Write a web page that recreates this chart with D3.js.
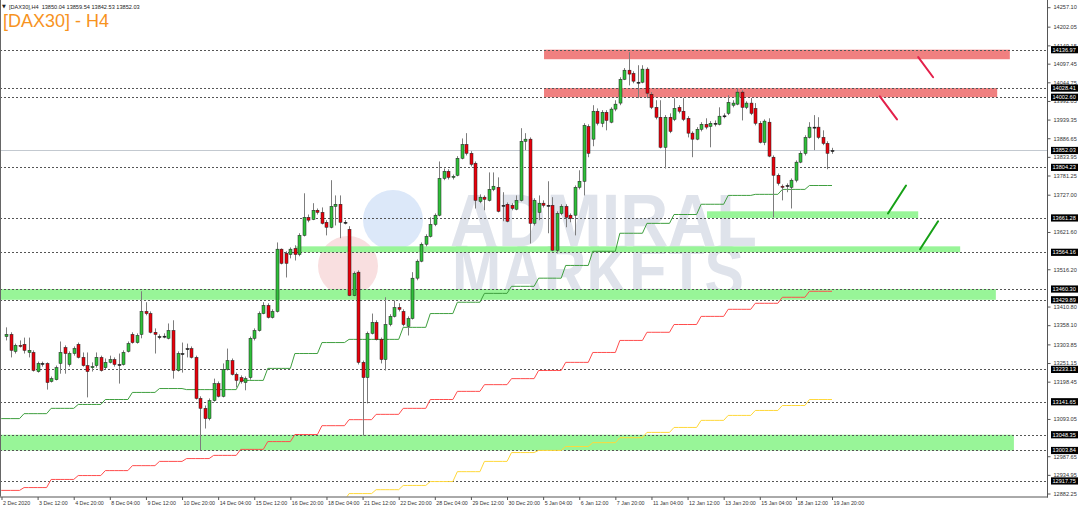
<!DOCTYPE html>
<html><head><meta charset="utf-8">
<script src="https://cdn.jsdelivr.net/npm/d3@7"></script>
<style>
html,body{margin:0;padding:0;background:#fff;}
svg{display:block;font-family:"Liberation Sans",Arial,sans-serif;}
</style></head><body>
<svg id="c" width="1080" height="508"></svg>
<script>
// ---------- DATA ----------
const opens = [13326,13332,13284,13301,13304,13281,13281,13227,13250,13250, 13199,13204,13250,13295,13247,13278,13304,13267,13244,13238, 13244,13267,13238,13253,13261,13247,13247,13284,13332,13309, 13332,13397,13391,13338,13326,13326,13321,13343,13230,13278, 13292,13292,13267,13151,13123,13094,13145,13193,13157,13233, 13258,13219,13210,13196,13210,13321,13343,13391,13414,13380, 13397,13573,13561,13558,13575,13558,13612,13663,13657,13683, 13677,13649,13635,13694,13700,13649,13629,13442,13508,13253, 13210,13335,13366,13318,13261,13360,13383,13408,13397,13355, 13377,13491,13539,13587,13609,13643,13669,13773,13793,13776, 13782,13830,13869,13844,13816,13708,13720,13711,13742,13748, 13697,13700,13697,13686,13711,13878,13884,13646,13677,13703, 13697,13697,13570,13674,13694,13669,13669,13748,13765,13920, 13884,13963,13929,13960,13932,13969,13986,14053,14079,14070, 14045,14045,14082,14011,13974,13946,13861,13946,13940,13974, 13963,13943,13901,13884,13912,13926,13920,13929,13926,13949, 13957,13980,13983,14017,13974,13986,13971,13929,13875,13932, 13833,13782,13751,13753,13748,13768,13819,13844,13889,13918, 13918,13889,13872,13850.04];
const highs = [13352,13338,13306,13315,13323,13323,13287,13255,13255,13253, 13213,13244,13312,13301,13284,13298,13309,13281,13281,13253, 13281,13272,13264,13272,13267,13278,13287,13312,13338,13335, 13454,13423,13397,13349,13332,13335,13363,13372,13284,13309, 13306,13298,13272,13157,13131,13151,13207,13199,13250,13292, 13264,13224,13216,13213,13326,13349,13397,13423,13420,13403, 13592,13575,13567,13578,13584,13618,13731,13671,13703,13688, 13691,13655,13768,13725,13725,13655,13638,13510,13513,13258, 13340,13391,13372,13323,13437,13389,13428,13420,13403,13383, 13508,13544,13592,13615,13663,13674,13821,13801,13799,13784, 13836,13886,13901,13850,13821,13728,13725,13790,13790,13776, 13734,13705,13703,13725,13915,13901,13889,13717,13725,13711, 13765,13720,13680,13700,13700,13674,13753,13796,13929,13926, 13980,13971,13966,13966,13974,13994,14059,14085,14130,14076, 14093,14093,14087,14017,13994,13994,13952,13957,14000,13980, 14000,13949,13906,13918,13932,13943,13935,13937,13974,13957, 14008,13994,14028,14022,13991,14000,13986,13935,13940,13943, 13838,13787,13756,13759,13773,13824,13850,13895,13932,13952, 13946,13909,13878,13859.54];
const lows = [13315,13267,13278,13295,13278,13267,13227,13224,13241,13176, 13196,13202,13221,13221,13241,13272,13264,13241,13154,13227, 13238,13227,13233,13250,13241,13193,13244,13281,13306,13306, 13321,13386,13335,13278,13318,13321,13318,13207,13227,13224, 13267,13264,13148,13004,13066,13089,13142,13154,13154,13230, 13216,13182,13193,13174,13204,13315,13340,13389,13377,13377, 13394,13530,13493,13547,13541,13553,13609,13649,13655,13671, 13643,13612,13632,13640,13604,13643,13440,13440,13247,13046, 13137,13332,13315,13250,13230,13355,13380,13397,13355,13329, 13374,13485,13536,13581,13606,13638,13666,13768,13770,13770, 13779,13827,13838,13807,13688,13703,13683,13708,13737,13677, 13652,13649,13683,13683,13708,13853,13589,13640,13655,13691, 13618,13567,13561,13669,13635,13649,13612,13742,13725,13833, 13864,13923,13918,13909,13929,13963,13980,14051,14036,14042, 14000,14042,14000,13969,13940,13858,13801,13901,13935,13957, 13935,13889,13833,13881,13906,13912,13861,13920,13923,13943, 13952,13974,13980,13937,13969,13952,13923,13872,13867,13833, 13663,13753,13711,13734,13688,13762,13816,13838,13886,13853, 13884,13867,13799,13842.53];
const closes = [13332,13287,13301,13298,13287,13287,13230,13250,13248,13196, 13207,13238,13281,13278,13278,13292,13267,13244,13227,13241, 13267,13230,13253,13261,13247,13246,13281,13306,13309,13329, 13397,13391,13338,13332,13325,13327,13343,13230,13278,13277, 13291,13267,13151,13123,13094,13145,13193,13157,13233,13258, 13219,13202,13199,13207,13321,13343,13391,13414,13380,13397, 13573,13533,13533,13573,13558,13612,13663,13655,13683,13677, 13646,13635,13694,13700,13649,13648,13442,13505,13253,13210, 13335,13366,13318,13261,13360,13383,13408,13403,13360,13377, 13491,13539,13587,13609,13643,13669,13773,13793,13776,13779, 13830,13869,13844,13813,13711,13720,13714,13742,13751,13680, 13696,13652,13688,13711,13878,13884,13646,13711,13703,13697, 13696,13570,13674,13694,13663,13660,13748,13765,13923,13844, 13963,13929,13960,13937,13969,13983,14053,14079,14068,14048, 14044,14082,14014,13974,13946,13861,13946,13906,13971,13963, 13940,13901,13884,13912,13926,13918,13929,13928,13949,13950, 13988,13986,14017,13974,13986,13957,13929,13875,13935,13836, 13782,13759,13748,13752,13768,13819,13844,13889,13918,13917, 13889,13872,13844,13852.03];

// daily moving averages (one value per trading day, 6 H4 bars per day)
const greenMA = [13094,13108,13123,13134,13148,13168,13179,13176,13176,13202,13236,13278,13309,13318,13318,13352,13391,13423,13448,13468,13491,13527,13567,13618,13646,13671,13700,13725,13728,13742,13753];
const redMA = [12891,12899,12922,12933,12947,12961,12973,12981,12990,13007,13029,13049,13074,13091,13106,13123,13148,13171,13190,13207,13230,13253,13281,13315,13338,13360,13383,13403,13420,13437,13454];
const yellowMAStartDay = 12;
const yellowMA = [12862,12882,12893,12905,12916,12944,12973,12998,13004,13015,13026,13040,13055,13069,13089,13103,13117,13131,13148];

const timeTickIndex = [-1,7,15,23,31,39,47,55,63,71,79,87,95,103,111,119,127,135,143,151,159,167,175,183];
const timeTickLabels = ["2 Dec 2020","3 Dec 12:00","4 Dec 20:00","8 Dec 04:00","9 Dec 12:00","10 Dec 20:00","14 Dec 04:00","15 Dec 12:00","16 Dec 20:00","18 Dec 04:00","21 Dec 12:00","22 Dec 20:00","28 Dec 04:00","29 Dec 12:00","30 Dec 20:00","5 Jan 04:00","6 Jan 12:00","7 Jan 20:00","11 Jan 04:00","12 Jan 12:00","13 Jan 20:00","15 Jan 04:00","18 Jan 12:00","19 Jan 20:00"];
// price scale labels that are not hidden behind the level labels
const priceTicks = [14257.10,14202.05,14149.15,14097.45,14044.75,13992.05,13939.35,13886.65,13833.95,13781.25,13727.00,13621.60,13516.20,13410.80,13358.10,13303.85,13251.15,13198.45,13093.05,12987.65,12934.95,12882.25];

const levels = [14136.97,14028.41,14002.60,13804.23,13661.28,13564.16,13460.30,13429.89,13233.13,13141.65,13048.35,13003.84,12917.75];
const lastPrice = 13852.03;

// zones: price top, price bottom, start bar, end bar
const zoneTop    = [14136.97,14028.41,13680,13581,13460.30,13048.35];
const zoneBottom = [14110,14002.60,13661.28,13564.16,13429.89,13003.84];
const zoneStart  = [119.2,119.2,155.3,64.2,-2,-2];
const zoneEnd    = [222.4,219.6,202.1,211.4,219.3,223.3];
const zoneKind   = ["res","res","sup","sup","sup","sup"];

// trend strokes: bar1, price1, bar2, price2
const trendBar1 = [202.1,193.6,195.4,202.5];
const trendP1   = [14116,14005,13674,13573];
const trendBar2 = [205.4,197.4,199.4,206.5];
const trendP2   = [14059,13940,13753,13652];
const trendKind = ["down","down","up","up"];

const headerText = "[DAX30],H4  13850.04 13859.54 13842.53 13852.03";
const titleText = "[DAX30] - H4";
const watermarkWords = ["ADMIRAL","MARKETS"];

// ---------- DRAW ----------
const plotR = 1047, plotB = 496.5;
const x = d3.scaleLinear().domain([0,183]).range([6,832]);
const y = d3.scaleLinear().domain([12882.25,14257.10]).range([493.5,7.2]);
const svg = d3.select("#c");
svg.append("defs").append("clipPath").attr("id","clip")
  .append("rect").attr("x",0).attr("y",0).attr("width",plotR).attr("height",plotB);
const g = svg.append("g").attr("clip-path","url(#clip)");

// watermark
g.append("circle").attr("cx",393).attr("cy",220).attr("r",30).attr("fill","#dce8f9");
g.append("circle").attr("cx",348).attr("cy",266).attr("r",30).attr("fill","#f9dfe0");
const wm = g.append("text").attr("font-size",74).attr("font-weight","bold").attr("fill","#dfe3eb");
wm.append("tspan").attr("x",450).attr("y",246).attr("textLength",307).attr("lengthAdjust","spacingAndGlyphs").text(watermarkWords[0]);
wm.append("tspan").attr("x",452).attr("y",297).attr("textLength",292).attr("lengthAdjust","spacingAndGlyphs").text(watermarkWords[1]);

// zones
g.selectAll("rect.zone").data(d3.range(zoneTop.length)).join("rect").attr("class","zone")
  .attr("x",i=>x(zoneStart[i])).attr("width",i=>x(zoneEnd[i])-x(zoneStart[i]))
  .attr("y",i=>y(zoneTop[i])).attr("height",i=>y(zoneBottom[i])-y(zoneTop[i]))
  .attr("fill",i=>zoneKind[i]==="res"?"#f08080":"#98f598");

// level dotted lines
g.selectAll("line.lvl").data(levels).join("line").attr("class","lvl")
  .attr("x1",0).attr("x2",plotR).attr("y1",d=>Math.round(y(d))+0.5).attr("y2",d=>Math.round(y(d))+0.5)
  .attr("stroke","#555").attr("stroke-width",1).attr("stroke-dasharray","2,2");
// current price line
g.append("line").attr("x1",0).attr("x2",plotR).attr("y1",Math.round(y(lastPrice))+0.5).attr("y2",Math.round(y(lastPrice))+0.5)
  .attr("stroke","#c3c9d0").attr("stroke-width",1);

// moving averages as per-bar step lines
function maPoints(daily, startDay){
  const pts=[];
  for(let i=-2;i<opens.length;i++){
    const d=Math.floor((i+2)/6);
    if(d<startDay || d-startDay>=daily.length) continue;
    pts.push([i,daily[d-startDay]]);
  }
  return pts;
}
const line = d3.line().x(d=>x(d[0])).y(d=>y(d[1]));
g.append("path").attr("d",line(maPoints(redMA,0))).attr("fill","none").attr("stroke","#ff4d4d").attr("stroke-width",1);
g.append("path").attr("d",line(maPoints(yellowMA,yellowMAStartDay))).attr("fill","none").attr("stroke","#ffd83a").attr("stroke-width",1);
g.append("path").attr("d",line(maPoints(greenMA,0))).attr("fill","none").attr("stroke","#3f9f3f").attr("stroke-width",1);

// candles
const idx = d3.range(opens.length);
g.selectAll("line.wick").data(idx).join("line").attr("class","wick")
  .attr("x1",i=>Math.round(x(i))+0.5).attr("x2",i=>Math.round(x(i))+0.5)
  .attr("y1",i=>y(highs[i])).attr("y2",i=>y(lows[i]))
  .attr("stroke","#7d7d7d").attr("stroke-width",1);
g.selectAll("rect.body").data(idx).join("rect").attr("class","body")
  .attr("x",i=>Math.round(x(i))-1).attr("width",3)
  .attr("y",i=>y(Math.max(opens[i],closes[i])))
  .attr("height",i=>Math.max(1,Math.abs(y(opens[i])-y(closes[i]))))
  .attr("fill",i=>Math.abs(closes[i]-opens[i])<=2.5?"#111":(closes[i]>opens[i]?"#2fbf3a":"#e8000b"))
  .attr("stroke","#1c1c1c").attr("stroke-width",0.5);

// trend strokes
g.selectAll("line.trend").data(d3.range(trendBar1.length)).join("line").attr("class","trend")
  .attr("x1",i=>x(trendBar1[i])).attr("y1",i=>y(trendP1[i]))
  .attr("x2",i=>x(trendBar2[i])).attr("y2",i=>y(trendP2[i]))
  .attr("stroke",i=>trendKind[i]==="down"?"#e3204a":"#16a016").attr("stroke-width",2).attr("stroke-linecap","round");

// frame
svg.append("line").attr("x1",0.5).attr("x2",0.5).attr("y1",0).attr("y2",plotB).attr("stroke","#666");
svg.append("line").attr("x1",plotR+0.5).attr("x2",plotR+0.5).attr("y1",0).attr("y2",plotB+1).attr("stroke","#555");
svg.append("line").attr("x1",0).attr("x2",plotR+1).attr("y1",plotB+0.5).attr("y2",plotB+0.5).attr("stroke","#555");

// right axis
const ax = svg.append("g").attr("transform",`translate(${plotR+0.5},0)`)
  .call(d3.axisRight(y).tickValues(priceTicks).tickFormat(d3.format(".2f")).tickSize(3).tickPadding(3));
ax.select(".domain").remove();
ax.selectAll("line").attr("stroke","#555");
ax.selectAll("text").attr("font-size",5.6).attr("fill","#333").attr("font-family","Liberation Sans, Arial, sans-serif");

// black level labels
const allLbl = levels.concat([lastPrice]);
svg.selectAll("rect.lbl").data(allLbl).join("rect").attr("class","lbl")
  .attr("x",1051).attr("width",27).attr("y",d=>y(d)-3.6).attr("height",7.2).attr("fill","#000");
svg.selectAll("text.lbl").data(allLbl).join("text").attr("class","lbl")
  .attr("x",1052.5).attr("y",d=>y(d)+2).attr("font-size",5.6).attr("fill","#fff")
  .text(d=>d3.format(".2f")(d));

// bottom axis
const bx = svg.append("g").attr("transform",`translate(0,${plotB+0.5})`)
  .call(d3.axisBottom(x).tickValues(timeTickIndex).tickFormat((d,i)=>timeTickLabels[i]).tickSize(3).tickPadding(1));
bx.select(".domain").remove();
bx.selectAll("line").attr("stroke","#555");
bx.selectAll("text").attr("text-anchor","start").attr("dx",1).attr("font-size",5.3).attr("fill","#333")
  .attr("font-family","Liberation Sans, Arial, sans-serif");

// header
svg.append("text").attr("x",2).attr("y",8.2).attr("font-size",5).attr("fill","#222").attr("font-family","DejaVu Sans").text("▼");
svg.append("text").attr("x",9).attr("y",8.5).attr("font-size",5.6).attr("fill","#222").attr("xml:space","preserve").text(headerText);
svg.append("text").attr("x",3).attr("y",26.5).attr("font-size",18).attr("fill","#f7931e").text(titleText);
</script>
</body></html>
